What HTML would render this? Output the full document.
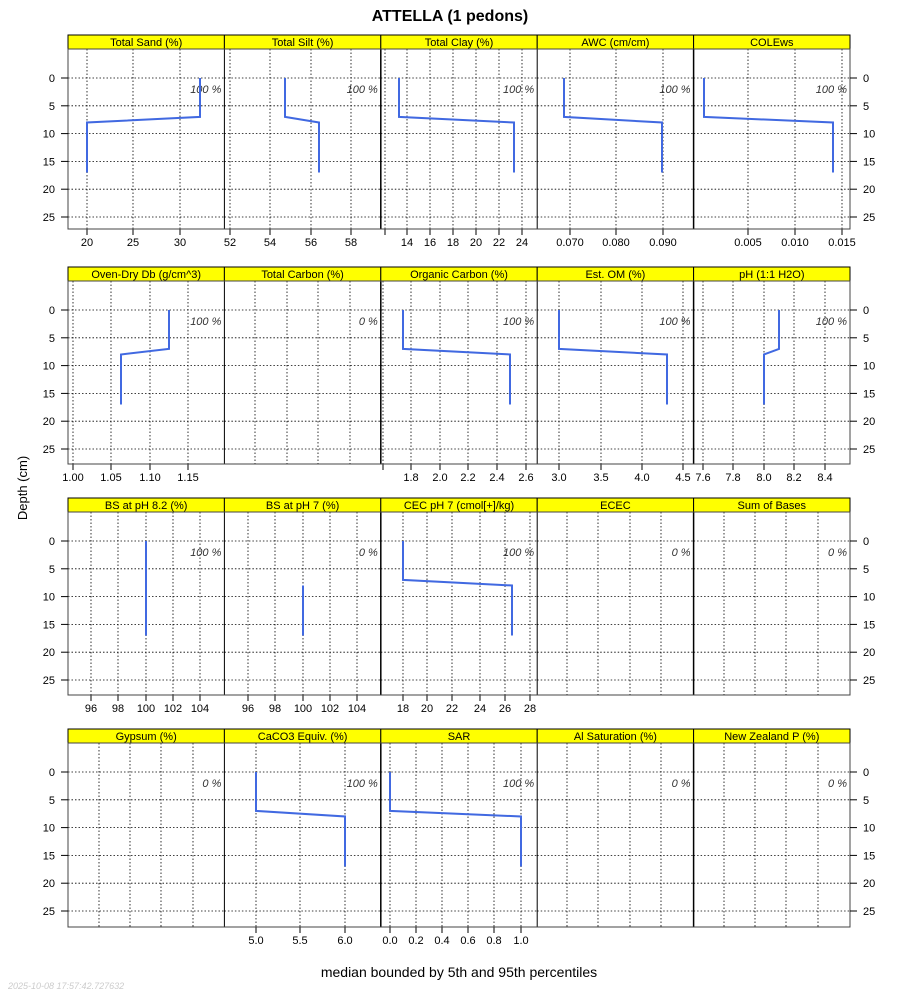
<!DOCTYPE html>
<html><head><meta charset="utf-8"><style>
body{margin:0;background:#fff;width:900px;height:1000px;overflow:hidden}
svg{font-family:"Liberation Sans",sans-serif}
</style></head><body>
<svg id="s" width="900" height="1000" xmlns="http://www.w3.org/2000/svg"></svg>
<script>
const S=document.getElementById('s');let h='';
h+='<text x="450" y="21" font-size="16" font-weight="bold" text-anchor="middle">ATTELLA (1 pedons)</text>';
h+='<text x="459" y="977" font-size="14" text-anchor="middle">median bounded by 5th and 95th percentiles</text>';
h+='<text x="27" y="488" font-size="13" text-anchor="middle" transform="rotate(-90 27 488)">Depth (cm)</text>';
h+='<text x="8" y="989" font-size="9" fill="#ccc" font-style="italic">2025-10-08 17:57:42.727632</text>';
const cols=[68,224.4,380.8,537.2,693.6,850];
const rows=[49,281,512,743];
const panels=[
[["Total Sand (%)",[[87,"20"],[133,"25"],[180,"30"]],[200,87],"100 %"],
 ["Total Silt (%)",[[230,"52"],[270,"54"],[311,"56"],[351,"58"]],[285,319],"100 %"],
 ["Total Clay (%)",[[385,""],[407,"14"],[430,"16"],[453,"18"],[476,"20"],[499,"22"],[522,"24"]],[399,514],"100 %"],
 ["AWC (cm/cm)",[[570,"0.070"],[616,"0.080"],[663,"0.090"]],[564,662],"100 %"],
 ["COLEws",[[748,"0.005"],[795,"0.010"],[842,"0.015"]],[704,833],"100 %"]],
[["Oven-Dry Db (g/cm^3)",[[73,"1.00"],[111,"1.05"],[150,"1.10"],[188,"1.15"]],[169,121],"100 %"],
 ["Total Carbon (%)",[[255,null],[287,null],[318,null],[350,null]],null,"0 %"],
 ["Organic Carbon (%)",[[383,""],[411,"1.8"],[440,"2.0"],[468,"2.2"],[497,"2.4"],[526,"2.6"]],[403,510],"100 %"],
 ["Est. OM (%)",[[559,"3.0"],[601,"3.5"],[642,"4.0"],[683,"4.5"]],[559,667],"100 %"],
 ["pH (1:1 H2O)",[[703,"7.6"],[733,"7.8"],[764,"8.0"],[794,"8.2"],[825,"8.4"]],[779,764],"100 %"]],
[["BS at pH 8.2 (%)",[[91,"96"],[118,"98"],[146,"100"],[173,"102"],[200,"104"]],[146,146],"100 %"],
 ["BS at pH 7 (%)",[[248,"96"],[275,"98"],[303,"100"],[330,"102"],[357,"104"]],"bs7","0 %"],
 ["CEC pH 7 (cmol[+]/kg)",[[403,"18"],[427,"20"],[452,"22"],[480,"24"],[505,"26"],[530,"28"]],[403,512],"100 %"],
 ["ECEC",[[567,null],[598,null],[630,null],[661,null]],null,"0 %"],
 ["Sum of Bases",[[724,null],[755,null],[786,null],[818,null]],null,"0 %"]],
[["Gypsum (%)",[[99,null],[130,null],[161,null],[193,null]],null,"0 %"],
 ["CaCO3 Equiv. (%)",[[256,"5.0"],[300,"5.5"],[345,"6.0"]],[256,345],"100 %"],
 ["SAR",[[390,"0.0"],[416,"0.2"],[442,"0.4"],[468,"0.6"],[494,"0.8"],[521,"1.0"]],[390,521],"100 %"],
 ["Al Saturation (%)",[[567,null],[598,null],[630,null],[661,null]],null,"0 %"],
 ["New Zealand P (%)",[[724,null],[755,null],[786,null],[818,null]],null,"0 %"]]];
rows.forEach((top,r)=>{
 const bot=top+180+(r==0?0:(r==1?3:(r==2?3:4)));
 const y=d=>top+29+d*5.56;
 for(let c=0;c<5;c++){
  const x0=cols[c],x1=cols[c+1],p=panels[r][c];
  h+=`<rect x="${x0}" y="${top-14}" width="${x1-x0}" height="14" fill="#ff0" stroke="#000" stroke-width="1"/>`;
  h+=`<text x="${(x0+x1)/2}" y="${top-3}" font-size="11" text-anchor="middle">${p[0].replace(/</g,'&lt;')}</text>`;
  for(let d=0;d<=25;d+=5) h+=`<line x1="${x0}" x2="${x1}" y1="${y(d)}" y2="${y(d)}" stroke="#000" stroke-width="0.8" stroke-dasharray="1.5,2"/>`;
  p[1].forEach(t=>{
   h+=`<line x1="${t[0]}" x2="${t[0]}" y1="${top}" y2="${bot}" stroke="#000" stroke-width="0.8" stroke-dasharray="1.5,2"/>`;
   if(t[1]!==null){h+=`<line x1="${t[0]}" x2="${t[0]}" y1="${bot}" y2="${bot+6}" stroke="#000"/>`;
    if(t[1])h+=`<text x="${t[0]}" y="${bot+17}" font-size="11" text-anchor="middle">${t[1]}</text>`;}
  });
  h+=`<text x="${x1-3}" y="${y(2.7)}" font-size="11" font-style="italic" fill="#333" text-anchor="end">${p[3]}</text>`;
  const L=p[2];
  if(L==="bs7") h+=`<line x1="303" x2="303" y1="${y(8)}" y2="${y(17)}" stroke="#4169e1" stroke-width="2"/>`;
  else if(L) h+=`<polyline points="${L[0]},${y(0)} ${L[0]},${y(7)} ${L[1]},${y(8)} ${L[1]},${y(17)}" fill="none" stroke="#4169e1" stroke-width="2"/>`;
  if(c>0) h+=`<line x1="${x0}" x2="${x0}" y1="${top}" y2="${bot}" stroke="#000" stroke-width="${c==2||c==4?1.5:1}"/>`;
 }
 h+=`<rect x="68" y="${top}" width="782" height="${bot-top}" fill="none" stroke="#444" stroke-width="1"/>`;
 for(let d=0;d<=25;d+=5){
  h+=`<line x1="61" x2="68" y1="${y(d)}" y2="${y(d)}" stroke="#000"/><line x1="850" x2="857" y1="${y(d)}" y2="${y(d)}" stroke="#000"/>`;
  h+=`<text x="55" y="${y(d)+4}" font-size="11" text-anchor="end">${d}</text>`;
  h+=`<text x="863" y="${y(d)+4}" font-size="11">${d}</text>`;
 }
});
S.innerHTML=h;
</script>
</body></html>
